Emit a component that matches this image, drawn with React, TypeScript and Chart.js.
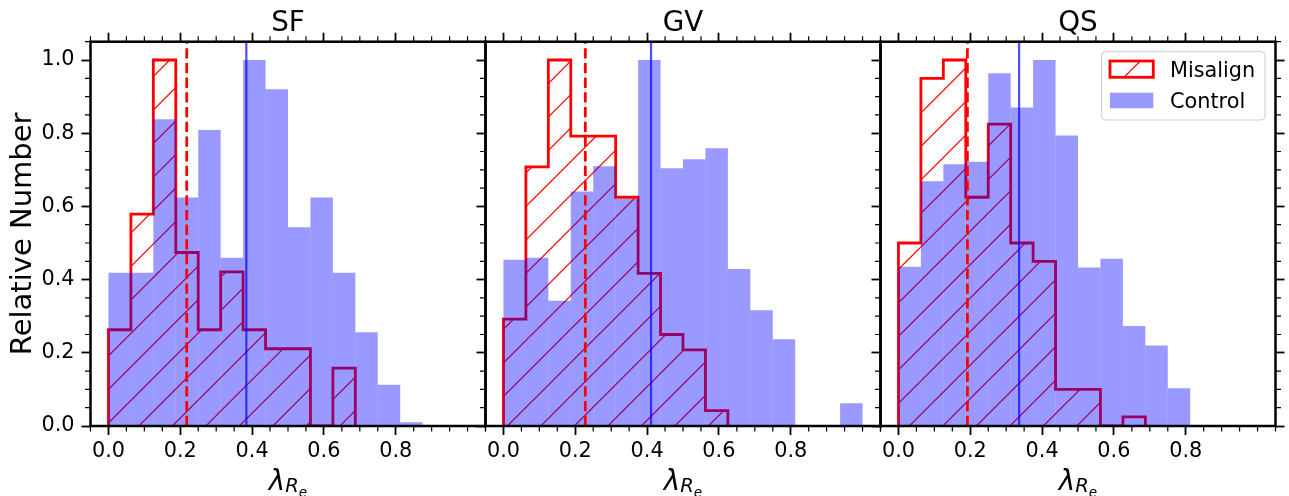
import React, { useEffect, useRef } from 'react';
import { Chart, registerables } from 'chart.js';

Chart.register(...registerables);

const FONT = "'DejaVu Sans', sans-serif";

// ---------------- data ----------------
const binEdges = [0, 0.0625, 0.125, 0.1875, 0.25, 0.3125, 0.375, 0.4375, 0.5, 0.5625, 0.625, 0.6875, 0.75, 0.8125, 0.875, 0.9375, 1.0];
const panelTitles = ['SF', 'GV', 'QS'];
const sfControl = [0.419, 0.419, 0.838, 0.624, 0.809, 0.46, 1.0, 0.92, 0.543, 0.624, 0.419, 0.256, 0.113, 0.01, 0, 0];
const gvControl = [0.454, 0.46, 0.342, 0.641, 0.71, 0.62, 1.0, 0.704, 0.729, 0.759, 0.429, 0.316, 0.237, 0, 0, 0.062];
const qsControl = [0.435, 0.669, 0.715, 0.722, 0.964, 0.87, 1.0, 0.794, 0.433, 0.457, 0.273, 0.22, 0.103, 0, 0, 0];
const sfMisalign = [0.263, 0.579, 1.0, 0.474, 0.263, 0.421, 0.263, 0.211, 0.211, 0, 0.158, 0, 0, 0, 0, 0];
const gvMisalign = [0.292, 0.708, 1.0, 0.792, 0.792, 0.625, 0.417, 0.25, 0.208, 0.042, 0, 0, 0, 0, 0, 0];
const qsMisalign = [0.5, 0.95, 1.0, 0.625, 0.825, 0.5, 0.45, 0.1, 0.1, 0, 0.025, 0, 0, 0, 0, 0];
const controlMedians = [0.384, 0.411, 0.336];
const misalignMedians = [0.218, 0.228, 0.192];
const xTickValues = [0, 0.2, 0.4, 0.6, 0.8];
const yTickValues = [0, 0.2, 0.4, 0.6, 0.8, 1.0];
const minorStep = 0.05;
const xLimits = [-0.05, 1.05];
const yLimits = [0, 1.05];
const legendLabels = ['Misalign', 'Control'];
const yAxisTitle = 'Relative Number';
const xLabelMain = 'λ';
const xLabelSub = 'R';
const xLabelSubSub = 'e';

const controls = [sfControl, gvControl, qsControl];
const misaligns = [sfMisalign, gvMisalign, qsMisalign];

// ---------------- layout / style ----------------
const FIG_W = 1289;
const FIG_H = 496;
const PANEL_LEFT = [90.5, 485.5, 880.5];
const PANEL_W = 395;
const PANEL_TOP = 41.7;
const PANEL_BOTTOM = 426;
const MAJOR_LEN = 9;
const MINOR_LEN = 5.5;
const RED = 'rgb(255,0,0)';
const BLUE_FILL = 'rgba(0,0,255,0.4)';

function makeHatch(): CanvasPattern | string {
  const P = 67;
  const c = document.createElement('canvas');
  c.width = P;
  c.height = P;
  const g = c.getContext('2d');
  if (!g) return 'rgba(255,0,0,0.2)';
  g.strokeStyle = RED;
  g.lineWidth = 1.2;
  const spacing = P / 2;
  const phase = 28.8;
  for (let k = -3; k <= 6; k++) {
    const s = phase + k * spacing;
    g.beginPath();
    g.moveTo(s + 10, -10);
    g.lineTo(-10, s + 10);
    g.stroke();
  }
  return g.createPattern(c, 'repeat') || 'rgba(255,0,0,0.2)';
}

// step outline of a histogram, ending at the right edge of the last non-empty bin
function stepPoints(values: number[]) {
  let last = values.length - 1;
  while (last > 0 && values[last] === 0) last--;
  const pts = [{ x: binEdges[0], y: 0 }];
  for (let i = 0; i <= last; i++) pts.push({ x: binEdges[i], y: values[i] });
  pts.push({ x: binEdges[last + 1], y: 0 });
  return pts;
}

const isMajor = (v: number, list: number[]) => list.some((t) => Math.abs(t - v) < 1e-9);

const decorPlugin = {
  id: 'decor',
  afterDraw(chart: any, _args: any, opts: any) {
    const { ctx, chartArea: a } = chart;
    const xs = chart.scales.x;
    const ys = chart.scales.y;
    ctx.save();
    // minor ticks
    ctx.strokeStyle = '#000';
    ctx.lineWidth = 1.2;
    ctx.beginPath();
    const k0 = Math.round(xLimits[0] / minorStep);
    const k1 = Math.round(xLimits[1] / minorStep);
    for (let k = k0; k <= k1; k++) {
      const v = k * minorStep;
      if (isMajor(v, xTickValues)) continue;
      const px = xs.getPixelForValue(v);
      ctx.moveTo(px, a.bottom);
      ctx.lineTo(px, a.bottom + MINOR_LEN);
      ctx.moveTo(px, a.top);
      ctx.lineTo(px, a.top - MINOR_LEN);
    }
    const j0 = Math.round(yLimits[0] / minorStep);
    const j1 = Math.round(yLimits[1] / minorStep);
    for (let k = j0; k <= j1; k++) {
      const v = k * minorStep;
      if (isMajor(v, yTickValues)) continue;
      const py = ys.getPixelForValue(v);
      ctx.moveTo(a.left, py);
      ctx.lineTo(a.left - MINOR_LEN, py);
      if (opts.rightTicks) {
        ctx.moveTo(a.right, py);
        ctx.lineTo(a.right + MINOR_LEN, py);
      }
    }
    ctx.stroke();
    // frame
    ctx.lineWidth = 2.5;
    ctx.lineJoin = 'miter';
    ctx.strokeRect(a.left, a.top, a.right - a.left, a.bottom - a.top);

    // x label  λ_{R_e}
    ctx.fillStyle = '#000';
    ctx.textAlign = 'left';
    ctx.textBaseline = 'alphabetic';
    const f1 = `italic 27.8px ${FONT}`;
    const f2 = `italic 19.5px ${FONT}`;
    const f3 = `italic 13.6px ${FONT}`;
    ctx.font = f1;
    const w1 = ctx.measureText(xLabelMain).width;
    ctx.font = f2;
    const w2 = ctx.measureText(xLabelSub).width;
    ctx.font = f3;
    const w3 = ctx.measureText(xLabelSubSub).width;
    const cx = (a.left + a.right) / 2;
    const x0 = cx - (w1 + w2 + w3) / 2;
    ctx.font = f1;
    ctx.fillText(xLabelMain, x0, a.bottom + 64);
    ctx.font = f2;
    ctx.fillText(xLabelSub, x0 + w1, a.bottom + 66);
    ctx.font = f3;
    ctx.fillText(xLabelSubSub, x0 + w1 + w2, a.bottom + 71);

    // legend
    if (opts.legend) {
      const bw = 163.3;
      const bh = 68.3;
      const bx = a.right - 10.5 - bw;
      const by = a.top + 10;
      ctx.beginPath();
      if (ctx.roundRect) ctx.roundRect(bx, by, bw, bh, 4);
      else ctx.rect(bx, by, bw, bh);
      ctx.fillStyle = 'rgba(255,255,255,0.8)';
      ctx.fill();
      ctx.strokeStyle = '#cccccc';
      ctx.lineWidth = 1;
      ctx.stroke();
      ctx.fillStyle = opts.hatch;
      ctx.fillRect(bx + 8.3, by + 9.3, 43.3, 16.3);
      ctx.strokeStyle = RED;
      ctx.lineWidth = 2.8;
      ctx.strokeRect(bx + 8.3, by + 9.3, 43.3, 16.3);
      ctx.fillStyle = BLUE_FILL;
      ctx.fillRect(bx + 8.3, by + 41, 43.3, 15.6);
      ctx.fillStyle = '#000';
      ctx.font = `20.8px ${FONT}`;
      ctx.fillText(legendLabels[0], bx + 68.3, by + 25);
      ctx.fillText(legendLabels[1], bx + 68.3, by + 56.6);
    }
    ctx.restore();
  },
};

function makeConfig(i: number, hatch: any): any {
  const left = PANEL_LEFT[i];
  const right = left + PANEL_W;
  const leftW = i === 0 ? left : 20;
  const hasRight = i === 2;
  const rightW = 15;
  const control = controls[i];
  const misalign = misaligns[i];
  const cm = controlMedians[i];
  const mm = misalignMedians[i];

  const gridOpts = {
    display: true,
    drawOnChartArea: false,
    drawTicks: true,
    tickLength: MAJOR_LEN,
    tickWidth: 1.8,
    tickColor: '#000',
    offset: false,
  };
  const xAfterBuild = (s: any) => {
    s.ticks = xTickValues.map((v) => ({ value: v }));
  };
  const yAfterBuild = (s: any) => {
    s.ticks = yTickValues.map((v) => ({ value: v }));
  };

  const scales: any = {
    x: {
      type: 'linear',
      position: 'bottom',
      min: xLimits[0],
      max: xLimits[1],
      bounds: 'data',
      offset: false,
      afterBuildTicks: xAfterBuild,
      afterFit: (s: any) => {
        s.height = FIG_H - PANEL_BOTTOM;
      },
      grid: gridOpts,
      border: { display: false },
      ticks: {
        display: true,
        color: '#000',
        font: { family: FONT, size: 20.8 },
        padding: 4,
        maxRotation: 0,
        autoSkip: false,
        callback: (v: any) => Number(v).toFixed(1),
      },
    },
    xTop: {
      type: 'linear',
      position: 'top',
      min: xLimits[0],
      max: xLimits[1],
      bounds: 'data',
      offset: false,
      afterBuildTicks: xAfterBuild,
      afterFit: (s: any) => {
        s.height = PANEL_TOP;
      },
      grid: gridOpts,
      border: { display: false },
      ticks: { display: false },
      title: {
        display: true,
        text: panelTitles[i],
        color: '#000',
        font: { family: FONT, size: 27.8 },
        padding: { top: 6.7, bottom: 0 },
      },
    },
    y: {
      type: 'linear',
      position: 'left',
      min: yLimits[0],
      max: yLimits[1],
      bounds: 'data',
      afterBuildTicks: yAfterBuild,
      afterFit: (s: any) => {
        s.width = leftW;
      },
      grid: gridOpts,
      border: { display: false },
      ticks: {
        display: i === 0,
        color: '#000',
        font: { family: FONT, size: 20.8 },
        padding: 7,
        callback: (v: any) => Number(v).toFixed(1),
      },
      title: {
        display: i === 0,
        text: yAxisTitle,
        color: '#000',
        font: { family: FONT, size: 29 },
        padding: { top: 5.9, bottom: 0 },
      },
    },
  };
  if (hasRight) {
    scales.yR = {
      type: 'linear',
      position: 'right',
      min: yLimits[0],
      max: yLimits[1],
      bounds: 'data',
      afterBuildTicks: yAfterBuild,
      afterFit: (s: any) => {
        s.width = rightW;
      },
      grid: gridOpts,
      border: { display: false },
      ticks: { display: false },
    };
  }

  return {
    type: 'bar',
    data: {
      datasets: [
        {
          type: 'line',
          label: 'Control median',
          data: [
            { x: cm, y: yLimits[0] },
            { x: cm, y: yLimits[1] },
          ],
          borderColor: 'rgba(0,0,255,0.7)',
          borderWidth: 2.2,
          pointRadius: 0,
          pointHoverRadius: 0,
          fill: false,
          order: 0,
        },
        {
          type: 'line',
          label: 'Misalign median',
          data: [
            { x: mm, y: yLimits[0] },
            { x: mm, y: yLimits[1] },
          ],
          borderColor: RED,
          borderWidth: 2.8,
          borderDash: [10.3, 4.4],
          pointRadius: 0,
          pointHoverRadius: 0,
          fill: false,
          order: 0,
        },
        {
          type: 'bar',
          label: legendLabels[1],
          data: control.map((v, k) => ({ x: (binEdges[k] + binEdges[k + 1]) / 2, y: v })),
          backgroundColor: BLUE_FILL,
          borderWidth: 0,
          barPercentage: 1,
          categoryPercentage: 1,
          inflateAmount: 0,
          order: 1,
        },
        {
          type: 'line',
          label: legendLabels[0],
          data: stepPoints(misalign),
          stepped: 'before',
          fill: 'origin',
          backgroundColor: hatch,
          borderColor: RED,
          borderWidth: 2.8,
          borderJoinStyle: 'miter',
          borderCapStyle: 'butt',
          pointRadius: 0,
          pointHoverRadius: 0,
          tension: 0,
          clip: 0,
          order: 2,
        },
      ],
    },
    options: {
      responsive: false,
      animation: false,
      events: [],
      layout: {
        autoPadding: false,
        padding: {
          left: left - leftW,
          right: FIG_W - right - (hasRight ? rightW : 0),
          top: 0,
          bottom: 0,
        },
      },
      scales,
      plugins: {
        legend: { display: false },
        tooltip: { enabled: false },
        title: { display: false },
        decor: { rightTicks: hasRight, legend: i === 2, hatch },
      },
    },
    plugins: [decorPlugin],
  };
}

export default function App() {
  const r0 = useRef<HTMLCanvasElement | null>(null);
  const r1 = useRef<HTMLCanvasElement | null>(null);
  const r2 = useRef<HTMLCanvasElement | null>(null);
  const refs = [r0, r1, r2];

  useEffect(() => {
    Chart.defaults.font.family = FONT;
    Chart.defaults.color = '#000';
    const hatch = makeHatch();
    const charts = refs.map((r, i) => new Chart(r.current as HTMLCanvasElement, makeConfig(i, hatch)));
    return () => charts.forEach((c) => c.destroy());
  }, []);

  return (
    <div style={{ position: 'absolute', left: 0, top: 0, width: FIG_W, height: FIG_H, background: '#fff' }}>
      {refs.map((r, i) => (
        <canvas
          key={i}
          ref={r}
          width={FIG_W}
          height={FIG_H}
          style={{ position: 'absolute', left: 0, top: 0, width: FIG_W, height: FIG_H }}
        />
      ))}
    </div>
  );
}
